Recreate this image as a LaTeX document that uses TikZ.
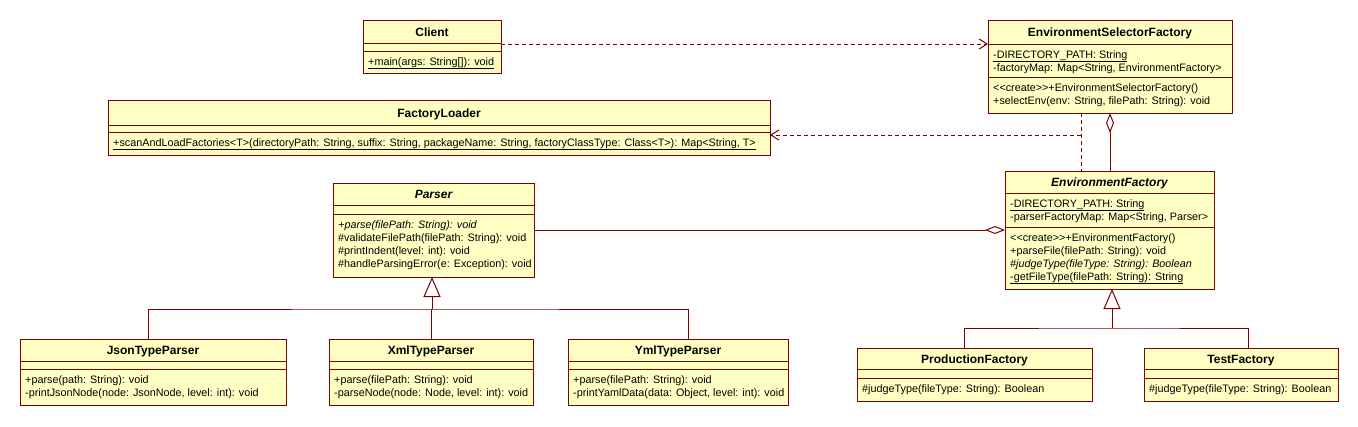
\documentclass[tikz,border=0pt]{standalone}
\usepackage{fontspec}
\setmainfont{Liberation Sans}
\usetikzlibrary{arrows.meta,fit}
\definecolor{umlline}{RGB}{128,0,0}
\definecolor{umlfill}{RGB}{255,255,196}
\tikzset{
  clsbox/.style={draw=umlline, fill=umlfill, line width=1pt, inner sep=0pt, outer sep=0pt, rectangle},
  divline/.style={draw=umlline, line width=1pt},
  ttl/.style={anchor=base, inner sep=0pt, font=\fontsize{12}{14}\selectfont\bfseries},
  mem/.style={anchor=base west, inner sep=0pt, font=\fontsize{10.8}{13}\selectfont},
  conn/.style={draw=umlline, line width=1pt},
  depline/.style={conn, dash pattern=on 4pt off 3pt},
  dep/.style={depline, -{Straight Barb[length=8pt,width=10pt,line width=1pt]}},
  aggstart/.style={conn, {Diamond[open,length=20pt,width=8pt,line width=1pt]}-},
  aggend/.style={conn, -{Diamond[open,length=20pt,width=8pt,line width=1pt]}},
  gen/.style={conn, -{Triangle[open,length=20pt,width=17pt,line width=1pt]}}
}
\newcommand{\umlclass}[8]{%
  \node[clsbox, fit={(#2,#3) (#4,#5)}] (#1) {};
  \draw[divline] (#2,#6) -- (#4,#6);
  \draw[divline] (#2,#7) -- (#4,#7);
  \node[ttl] (#1-title) at ({(#2+#4)/2},{(#3+#6)/2+4.5}) {#8};
}
\newcommand{\umlmember}[4]{\node[mem] (#1) at (#2,#3) {#4};}
\begin{document}
\begin{tikzpicture}[x=1pt,y=-1pt]
\fill[white] (0,0) rectangle (1358,426);
\useasboundingbox (0,0) rectangle (1358,426);

% Client
\umlclass{client}{363}{20}{501}{73}{43}{51}{Client}
\umlmember{client-o1}{368}{65}{\underline{+main(args: String[]): void}}

% EnvironmentSelectorFactory
\umlclass{esf}{988}{20}{1232}{113}{44}{77}{EnvironmentSelectorFactory}
\umlmember{esf-a1}{993}{58}{\underline{-DIRECTORY\_PATH: String}}
\umlmember{esf-a2}{993}{71}{-factoryMap: Map<String, EnvironmentFactory>}
\umlmember{esf-o1}{993}{91}{<{}<create>{}>+EnvironmentSelectorFactory()}
\umlmember{esf-o2}{993}{104}{+selectEnv(env: String, filePath: String): void}

% FactoryLoader
\umlclass{fl}{108}{100}{770}{155}{125}{132}{FactoryLoader}
\umlmember{fl-o1}{113}{146}{\underline{+scanAndLoadFactories<T>(directoryPath: String, suffix: String, packageName: String, factoryClassType: Class<T>): Map<String, T>}}

% Parser
\umlclass{parser}{333}{183}{534}{277}{205}{214}{\itshape Parser}
\umlmember{parser-o1}{338}{228}{\itshape +parse(filePath: String): void}
\umlmember{parser-o2}{338}{241}{\#validateFilePath(filePath: String): void}
\umlmember{parser-o3}{338}{254}{\#printIndent(level: int): void}
\umlmember{parser-o4}{338}{267}{\#handleParsingError(e: Exception): void}

% EnvironmentFactory
\umlclass{ef}{1005}{171}{1214}{289}{193}{227}{\itshape EnvironmentFactory}
\umlmember{ef-a1}{1010}{207}{\underline{-DIRECTORY\_PATH: String}}
\umlmember{ef-a2}{1010}{220}{-parserFactoryMap: Map<String, Parser>}
\umlmember{ef-o1}{1010}{241}{<{}<create>{}>+EnvironmentFactory()}
\umlmember{ef-o2}{1010}{254}{+parseFile(filePath: String): void}
\umlmember{ef-o3}{1010}{267}{\itshape \#judgeType(fileType: String): Boolean}
\umlmember{ef-o4}{1010}{280}{\underline{-getFileType(filePath: String): String}}

% Parsers
\umlclass{json}{20}{339}{286}{405}{361}{369}{JsonTypeParser}
\umlmember{json-o1}{25}{383}{+parse(path: String): void}
\umlmember{json-o2}{25}{396}{-printJsonNode(node: JsonNode, level: int): void}

\umlclass{xml}{329}{339}{533}{405}{361}{369}{XmlTypeParser}
\umlmember{xml-o1}{334}{383}{+parse(filePath: String): void}
\umlmember{xml-o2}{334}{396}{-parseNode(node: Node, level: int): void}

\umlclass{yml}{568}{339}{788}{405}{361}{369}{YmlTypeParser}
\umlmember{yml-o1}{573}{383}{+parse(filePath: String): void}
\umlmember{yml-o2}{573}{396}{-printYamlData(data: Object, level: int): void}

% Factories
\umlclass{prod}{857}{348}{1092}{401}{369}{378}{ProductionFactory}
\umlmember{prod-o1}{862}{392}{\#judgeType(fileType: String): Boolean}

\umlclass{test}{1144}{348}{1338}{401}{369}{378}{TestFactory}
\umlmember{test-o1}{1149}{392}{\#judgeType(fileType: String): Boolean}

% Connectors
\draw[dep] ([yshift=2.5pt]client.east) -- ([yshift=2.5pt]client.east -| esf.west);

\coordinate (dj) at (1081,135);
\draw[depline] (dj |- esf.south) -- (dj |- ef.north);
\draw[dep] (dj) -- (dj -| fl.east);

\draw[aggstart] (esf.south) -- (esf.south |- ef.north);
\draw[aggend] (parser.east) -- (parser.east -| ef.west);

\coordinate (pbus) at (432,309);
\draw[gen] (pbus) -- (pbus |- parser.south);
\draw[conn] ([xshift=-5pt]json.north) |- (pbus) -| ([xshift=10pt]yml.north);
\draw[conn] (xml.north) -- (xml.north |- pbus);

\coordinate (ebus) at (1112,328);
\draw[gen] (ebus) -- (ebus |- ef.south);
\draw[conn] ([xshift=-10pt]prod.north) |- (ebus) -| ([xshift=7pt]test.north);
\end{tikzpicture}
\end{document}
